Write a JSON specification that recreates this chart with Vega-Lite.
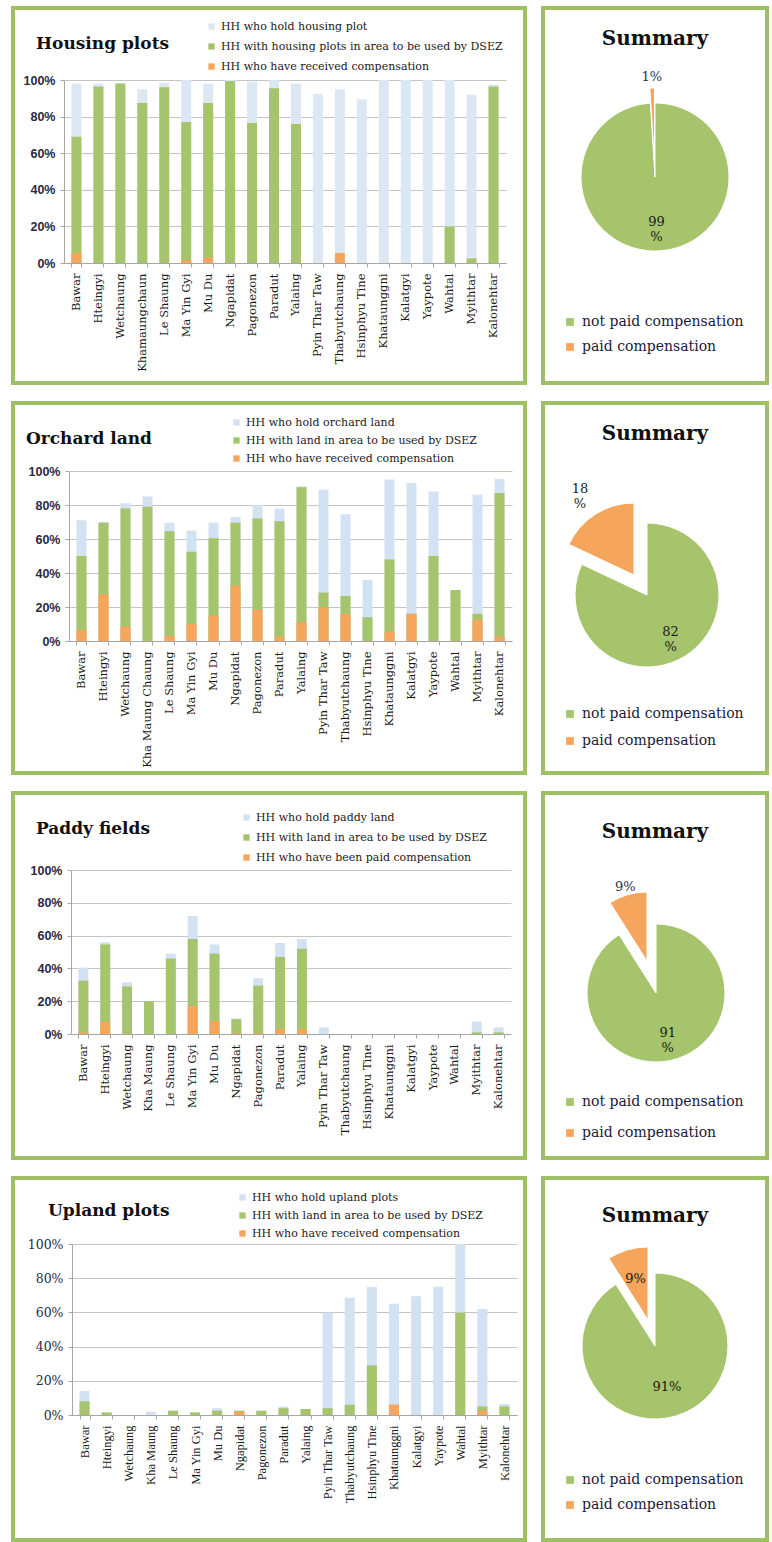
{
  "$schema": "https://vega.github.io/schema/vega-lite/v6.json",
  "background": "white",
  "padding": {"left": 5, "top": 6, "right": 0, "bottom": 0},
  "spacing": 16,
  "resolve": {"scale": {"color": "independent", "theta": "independent"}, "legend": {"color": "independent"}},
  "config": {"view": {"stroke": null}},
  "vconcat": [
    {
      "spacing": 14,
      "resolve": {"scale": {"color": "independent", "theta": "independent"}, "legend": {"color": "independent"}},
      "hconcat": [
        {
          "width": 512, "height": 375,
          "view": {"stroke": "#9fc062", "strokeWidth": 4},
          "title": {"text": "Housing plots", "anchor": "start", "frame": "group", "dx": 23, "offset": -53, "baseline": "middle", "font": "DejaVu Serif", "fontSize": 17, "fontWeight": "bold", "color": "#111111"},
          "data": {"values": [
            {"village": "Bawar", "hold": 98, "dsez": 69, "comp": 5.5},
            {"village": "Hteingyi", "hold": 98, "dsez": 96.5, "comp": 0},
            {"village": "Wetchaung", "hold": 98.5, "dsez": 98, "comp": 0},
            {"village": "Khamaungchaun", "hold": 95, "dsez": 87.5, "comp": 0},
            {"village": "Le Shaung", "hold": 98.5, "dsez": 96, "comp": 0},
            {"village": "Ma Yin Gyi", "hold": 100, "dsez": 77, "comp": 1.5},
            {"village": "Mu Du", "hold": 98, "dsez": 87.5, "comp": 3},
            {"village": "Ngapidat", "hold": 100, "dsez": 99.5, "comp": 0},
            {"village": "Pagonezon", "hold": 99, "dsez": 76.5, "comp": 0},
            {"village": "Paradut", "hold": 100, "dsez": 95.5, "comp": 0},
            {"village": "Yalaing", "hold": 98, "dsez": 76, "comp": 0},
            {"village": "Pyin Thar Taw", "hold": 92.5, "dsez": 0, "comp": 0},
            {"village": "Thabyutchaung", "hold": 95, "dsez": 0, "comp": 5.5},
            {"village": "Hsinphyu Tine", "hold": 89.5, "dsez": 0, "comp": 0},
            {"village": "Khataunggni", "hold": 100, "dsez": 0, "comp": 0},
            {"village": "Kalatgyi", "hold": 100, "dsez": 0, "comp": 0},
            {"village": "Yaypote", "hold": 100, "dsez": 0, "comp": 0},
            {"village": "Wahtal", "hold": 100, "dsez": 20, "comp": 0},
            {"village": "Myithtar", "hold": 92, "dsez": 2.5, "comp": 0},
            {"village": "Kalonehtar", "hold": 97.5, "dsez": 96.5, "comp": 0}
          ]},
          "transform": [{"fold": ["hold", "dsez", "comp"], "as": ["series", "value"]}],
          "mark": {"type": "bar"},
          "encoding": {
            "x": {"field": "village", "type": "nominal", "sort": null,
              "scale": {"range": [51, 493], "paddingInner": 0.545, "paddingOuter": 0.34},
              "axis": {"title": null, "orient": "bottom", "offset": -120, "labelAngle": -90, "tickBand": "extent", "tickSize": 4, "labelPadding": 6, "labelFont": "DejaVu Serif", "labelFontSize": 11.5, "labelColor": "#1a1a1a", "domainColor": "#a6a6a6", "tickColor": "#a6a6a6", "grid": false}},
            "y": {"field": "value", "type": "quantitative", "stack": null,
              "scale": {"domain": [0, 100], "range": [255, 72]},
              "axis": {"title": null, "offset": -51, "values": [0, 20, 40, 60, 80, 100], "labelExpr": "datum.value + '%'", "grid": true, "gridColor": "#c4c4c4", "gridWidth": 1.2, "tickSize": 4, "labelPadding": 5, "domainColor": "#a6a6a6", "tickColor": "#a6a6a6", "labelFont": "Liberation Sans", "labelFontWeight": "bold", "labelFontSize": 12.5, "labelColor": "#2a2a44"}},
            "color": {"field": "series", "type": "nominal",
              "scale": {"domain": ["hold", "dsez", "comp"], "range": ["#dbe8f3", "#a5c46b", "#f5a55c"]},
              "legend": {"orient": "none", "legendX": 193, "legendY": 13, "title": null, "symbolType": "square", "symbolSize": 40, "symbolStrokeWidth": 0, "labelFont": "DejaVu Serif", "labelFontSize": 11, "labelColor": "#1a1a1a", "labelLimit": 400, "rowPadding": 8, "labelOffset": 4,
                "labelExpr": "{'hold': 'HH who hold housing plot', 'dsez': 'HH with housing plots in area to be used by DSEZ', 'comp': 'HH who have received compensation'}[datum.label]"}}
          }
        },
        {
          "width": 224, "height": 375,
          "view": {"stroke": "#9fc062", "strokeWidth": 4},
          "title": {"text": "Summary", "anchor": "middle", "frame": "group", "offset": -51, "baseline": "middle", "font": "DejaVu Serif", "fontSize": 20, "fontWeight": "bold", "color": "#111111"},
          "data": {"values": [
            {"status": "not paid compensation", "pct": 99, "label": "99 %"},
            {"status": "paid compensation", "pct": 1, "label": "1%"}
          ]},
          "encoding": {
            "theta": {"field": "pct", "type": "quantitative", "stack": true},
            "order": {"field": "status", "type": "nominal", "sort": "ascending"}
          },
          "layer": [
            {"mark": {"type": "arc", "outerRadius": 74, "xOffset": 0, "yOffset": -18.5, "stroke": "white", "strokeWidth": 1},
             "encoding": {
               "color": {"field": "status", "type": "nominal", "scale": {"domain": ["not paid compensation", "paid compensation"], "range": ["#a5c46b", "#f5a55c"]},
                 "legend": {"orient": "none", "legendX": 20, "legendY": 307, "title": null, "symbolType": "square", "symbolSize": 60, "symbolStrokeWidth": 0, "labelFont": "DejaVu Serif", "labelFontSize": 14, "labelColor": "#1a1a3a", "labelLimit": 400, "rowPadding": 11, "labelOffset": 5}},
               "opacity": {"condition": {"test": "datum.status == 'paid compensation'", "value": 0}, "value": 1}}},
            {"mark": {"type": "arc", "outerRadius": 74, "xOffset": -0.5, "yOffset": -33.5, "stroke": "white", "strokeWidth": 1},
             "encoding": {
               "color": {"field": "status", "type": "nominal"},
               "opacity": {"condition": {"test": "datum.status == 'not paid compensation'", "value": 0}, "value": 1}}},
            {"mark": {"type": "text", "radius": 45, "xOffset": 0, "yOffset": -18.5, "lineBreak": " ", "font": "DejaVu Serif", "fontSize": 13, "color": "#1a1a1a"},
             "encoding": {"detail": {"field": "status"}, "text": {"condition": {"test": "datum.status == 'not paid compensation'", "field": "label"}, "value": ""}}},
            {"mark": {"type": "text", "radius": 100, "xOffset": 0, "yOffset": -18.5, "lineBreak": " ", "font": "DejaVu Serif", "fontSize": 13, "color": "#2a3350"},
             "encoding": {"detail": {"field": "status"}, "text": {"condition": {"test": "datum.status == 'paid compensation'", "field": "label"}, "value": ""}}}
          ]
        }
      ]
    },
    {
      "spacing": 14,
      "resolve": {"scale": {"color": "independent", "theta": "independent"}, "legend": {"color": "independent"}},
      "hconcat": [
        {
          "width": 512, "height": 370,
          "view": {"stroke": "#9fc062", "strokeWidth": 4},
          "title": {"text": "Orchard land", "anchor": "start", "frame": "group", "dx": 13, "offset": -53, "baseline": "middle", "font": "DejaVu Serif", "fontSize": 17, "fontWeight": "bold", "color": "#111111"},
          "data": {"values": [
            {"village": "Bawar", "hold": 71, "dsez": 50, "comp": 6.5},
            {"village": "Hteingyi", "hold": 70, "dsez": 69.5, "comp": 27.5},
            {"village": "Wetchaung", "hold": 81, "dsez": 78, "comp": 8.5},
            {"village": "Kha Maung Chaung", "hold": 85, "dsez": 79, "comp": 0},
            {"village": "Le Shaung", "hold": 69.5, "dsez": 64.5, "comp": 3},
            {"village": "Ma Yin Gyi", "hold": 65, "dsez": 52.5, "comp": 10},
            {"village": "Mu Du", "hold": 69.5, "dsez": 60.5, "comp": 15},
            {"village": "Ngapidat", "hold": 73, "dsez": 69.5, "comp": 32.5},
            {"village": "Pagonezon", "hold": 80, "dsez": 72, "comp": 18.5},
            {"village": "Paradut", "hold": 78, "dsez": 70.5, "comp": 2.5},
            {"village": "Yalaing", "hold": 91, "dsez": 90.5, "comp": 11},
            {"village": "Pyin Thar Taw", "hold": 89, "dsez": 28.5, "comp": 20},
            {"village": "Thabyutchaung", "hold": 74.5, "dsez": 26.5, "comp": 16},
            {"village": "Hsinphyu Tine", "hold": 36, "dsez": 14, "comp": 0},
            {"village": "Khataunggni", "hold": 95, "dsez": 48, "comp": 5.5},
            {"village": "Kalatgyi", "hold": 93, "dsez": 16, "comp": 16},
            {"village": "Yaypote", "hold": 88, "dsez": 50, "comp": 0},
            {"village": "Wahtal", "hold": 30, "dsez": 30, "comp": 0},
            {"village": "Myithtar", "hold": 86, "dsez": 16, "comp": 12.5},
            {"village": "Kalonehtar", "hold": 95.5, "dsez": 87, "comp": 2.5}
          ]},
          "transform": [{"fold": ["hold", "dsez", "comp"], "as": ["series", "value"]}],
          "mark": {"type": "bar"},
          "encoding": {
            "x": {"field": "village", "type": "nominal", "sort": null,
              "scale": {"range": [56, 499], "paddingInner": 0.545, "paddingOuter": 0.34},
              "axis": {"title": null, "orient": "bottom", "offset": -132, "labelAngle": -90, "tickBand": "extent", "tickSize": 4, "labelPadding": 6, "labelFont": "DejaVu Serif", "labelFontSize": 11.5, "labelColor": "#1a1a1a", "domainColor": "#a6a6a6", "tickColor": "#a6a6a6", "grid": false}},
            "y": {"field": "value", "type": "quantitative", "stack": null,
              "scale": {"domain": [0, 100], "range": [238, 68]},
              "axis": {"title": null, "offset": -56, "values": [0, 20, 40, 60, 80, 100], "labelExpr": "datum.value + '%'", "grid": true, "gridColor": "#c4c4c4", "gridWidth": 1.2, "tickSize": 4, "labelPadding": 5, "domainColor": "#a6a6a6", "tickColor": "#a6a6a6", "labelFont": "Liberation Sans", "labelFontWeight": "bold", "labelFontSize": 12.5, "labelColor": "#2a2a44"}},
            "color": {"field": "series", "type": "nominal",
              "scale": {"domain": ["hold", "dsez", "comp"], "range": ["#d3e2f3", "#a5c46b", "#f5a55c"]},
              "legend": {"orient": "none", "legendX": 218, "legendY": 14, "title": null, "symbolType": "square", "symbolSize": 40, "symbolStrokeWidth": 0, "labelFont": "DejaVu Serif", "labelFontSize": 11, "labelColor": "#1a1a1a", "labelLimit": 400, "rowPadding": 6, "labelOffset": 4,
                "labelExpr": "{'hold': 'HH who hold orchard land', 'dsez': 'HH with land in area to be used by DSEZ', 'comp': 'HH who have received compensation'}[datum.label]"}}
          }
        },
        {
          "width": 224, "height": 370,
          "view": {"stroke": "#9fc062", "strokeWidth": 4},
          "title": {"text": "Summary", "anchor": "middle", "frame": "group", "offset": -51, "baseline": "middle", "font": "DejaVu Serif", "fontSize": 20, "fontWeight": "bold", "color": "#111111"},
          "data": {"values": [
            {"status": "not paid compensation", "pct": 82, "label": "82 %"},
            {"status": "paid compensation", "pct": 18, "label": "18 %"}
          ]},
          "encoding": {
            "theta": {"field": "pct", "type": "quantitative", "stack": true},
            "order": {"field": "status", "type": "nominal", "sort": "ascending"}
          },
          "layer": [
            {"mark": {"type": "arc", "outerRadius": 72, "xOffset": -8, "yOffset": 7, "stroke": "white", "strokeWidth": 1},
             "encoding": {
               "color": {"field": "status", "type": "nominal", "scale": {"domain": ["not paid compensation", "paid compensation"], "range": ["#a5c46b", "#f5a55c"]},
                 "legend": {"orient": "none", "legendX": 20, "legendY": 304, "title": null, "symbolType": "square", "symbolSize": 60, "symbolStrokeWidth": 0, "labelFont": "DejaVu Serif", "labelFontSize": 14, "labelColor": "#1a1a3a", "labelLimit": 400, "rowPadding": 13, "labelOffset": 5}},
               "opacity": {"condition": {"test": "datum.status == 'paid compensation'", "value": 0}, "value": 1}}},
            {"mark": {"type": "arc", "outerRadius": 72, "xOffset": -21, "yOffset": -13, "stroke": "white", "strokeWidth": 1},
             "encoding": {
               "color": {"field": "status", "type": "nominal"},
               "opacity": {"condition": {"test": "datum.status == 'not paid compensation'", "value": 0}, "value": 1}}},
            {"mark": {"type": "text", "radius": 44, "xOffset": -8, "yOffset": 7, "lineBreak": " ", "font": "DejaVu Serif", "fontSize": 13, "color": "#1a1a1a"},
             "encoding": {"detail": {"field": "status"}, "text": {"condition": {"test": "datum.status == 'not paid compensation'", "field": "label"}, "value": ""}}},
            {"mark": {"type": "text", "radius": 125, "xOffset": -8, "yOffset": 7, "lineBreak": " ", "font": "DejaVu Serif", "fontSize": 13, "color": "#1a1a1a"},
             "encoding": {"detail": {"field": "status"}, "text": {"condition": {"test": "datum.status == 'paid compensation'", "field": "label"}, "value": ""}}}
          ]
        }
      ]
    },
    {
      "spacing": 14,
      "resolve": {"scale": {"color": "independent", "theta": "independent"}, "legend": {"color": "independent"}},
      "hconcat": [
        {
          "width": 512, "height": 365,
          "view": {"stroke": "#9fc062", "strokeWidth": 4},
          "title": {"text": "Paddy fields", "anchor": "start", "frame": "group", "dx": 23, "offset": -53, "baseline": "middle", "font": "DejaVu Serif", "fontSize": 17, "fontWeight": "bold", "color": "#111111"},
          "data": {"values": [
            {"village": "Bawar", "hold": 40.5, "dsez": 32.5, "comp": 1},
            {"village": "Hteingyi", "hold": 56, "dsez": 54.5, "comp": 7.5},
            {"village": "Wetchaung", "hold": 31.5, "dsez": 29, "comp": 0},
            {"village": "Kha Maung", "hold": 20, "dsez": 20, "comp": 0},
            {"village": "Le Shaung", "hold": 49, "dsez": 46, "comp": 0},
            {"village": "Ma Yin Gyi", "hold": 72, "dsez": 58, "comp": 17},
            {"village": "Mu Du", "hold": 54.5, "dsez": 49, "comp": 8},
            {"village": "Ngapidat", "hold": 9.5, "dsez": 9, "comp": 0.5},
            {"village": "Pagonezon", "hold": 34, "dsez": 29.5, "comp": 0.5},
            {"village": "Paradut", "hold": 55.5, "dsez": 47, "comp": 3},
            {"village": "Yalaing", "hold": 58, "dsez": 52, "comp": 3},
            {"village": "Pyin Thar Taw", "hold": 4, "dsez": 0, "comp": 0},
            {"village": "Thabyutchaung", "hold": 0, "dsez": 0, "comp": 0},
            {"village": "Hsinphyu Tine", "hold": 0, "dsez": 0, "comp": 0},
            {"village": "Khataunggni", "hold": 0, "dsez": 0, "comp": 0},
            {"village": "Kalatgyi", "hold": 0, "dsez": 0, "comp": 0},
            {"village": "Yaypote", "hold": 0, "dsez": 0, "comp": 0},
            {"village": "Wahtal", "hold": 0, "dsez": 0, "comp": 0},
            {"village": "Myithtar", "hold": 7.5, "dsez": 1, "comp": 0},
            {"village": "Kalonehtar", "hold": 4, "dsez": 1, "comp": 0}
          ]},
          "transform": [{"fold": ["hold", "dsez", "comp"], "as": ["series", "value"]}],
          "mark": {"type": "bar"},
          "encoding": {
            "x": {"field": "village", "type": "nominal", "sort": null,
              "scale": {"range": [58, 498], "paddingInner": 0.545, "paddingOuter": 0.34},
              "axis": {"title": null, "orient": "bottom", "offset": -124, "labelAngle": -90, "tickBand": "extent", "tickSize": 4, "labelPadding": 6, "labelFont": "DejaVu Serif", "labelFontSize": 11.5, "labelColor": "#1a1a1a", "domainColor": "#a6a6a6", "tickColor": "#a6a6a6", "grid": false}},
            "y": {"field": "value", "type": "quantitative", "stack": null,
              "scale": {"domain": [0, 100], "range": [241, 77]},
              "axis": {"title": null, "offset": -58, "values": [0, 20, 40, 60, 80, 100], "labelExpr": "datum.value + '%'", "grid": true, "gridColor": "#c4c4c4", "gridWidth": 1.2, "tickSize": 4, "labelPadding": 5, "domainColor": "#a6a6a6", "tickColor": "#a6a6a6", "labelFont": "Liberation Sans", "labelFontWeight": "bold", "labelFontSize": 12.5, "labelColor": "#2a2a44"}},
            "color": {"field": "series", "type": "nominal",
              "scale": {"domain": ["hold", "dsez", "comp"], "range": ["#d3e2f3", "#a5c46b", "#f5a55c"]},
              "legend": {"orient": "none", "legendX": 228, "legendY": 19, "title": null, "symbolType": "square", "symbolSize": 40, "symbolStrokeWidth": 0, "labelFont": "DejaVu Serif", "labelFontSize": 11, "labelColor": "#1a1a1a", "labelLimit": 400, "rowPadding": 8, "labelOffset": 4,
                "labelExpr": "{'hold': 'HH who hold paddy land', 'dsez': 'HH with land in area to be used by DSEZ', 'comp': 'HH who have been paid compensation'}[datum.label]"}}
          }
        },
        {
          "width": 224, "height": 365,
          "view": {"stroke": "#9fc062", "strokeWidth": 4},
          "title": {"text": "Summary", "anchor": "middle", "frame": "group", "offset": -59, "baseline": "middle", "font": "DejaVu Serif", "fontSize": 20, "fontWeight": "bold", "color": "#111111"},
          "data": {"values": [
            {"status": "not paid compensation", "pct": 91, "label": "91 %"},
            {"status": "paid compensation", "pct": 9, "label": "9%"}
          ]},
          "encoding": {
            "theta": {"field": "pct", "type": "quantitative", "stack": true},
            "order": {"field": "status", "type": "nominal", "sort": "ascending"}
          },
          "layer": [
            {"mark": {"type": "arc", "outerRadius": 69, "xOffset": 1, "yOffset": 17.5, "stroke": "white", "strokeWidth": 1},
             "encoding": {
               "color": {"field": "status", "type": "nominal", "scale": {"domain": ["not paid compensation", "paid compensation"], "range": ["#a5c46b", "#f5a55c"]},
                 "legend": {"orient": "none", "legendX": 20, "legendY": 302, "title": null, "symbolType": "square", "symbolSize": 60, "symbolStrokeWidth": 0, "labelFont": "DejaVu Serif", "labelFontSize": 14, "labelColor": "#1a1a3a", "labelLimit": 400, "rowPadding": 17, "labelOffset": 5}},
               "opacity": {"condition": {"test": "datum.status == 'paid compensation'", "value": 0}, "value": 1}}},
            {"mark": {"type": "arc", "outerRadius": 69, "xOffset": -8, "yOffset": -14.5, "stroke": "white", "strokeWidth": 1},
             "encoding": {
               "color": {"field": "status", "type": "nominal"},
               "opacity": {"condition": {"test": "datum.status == 'not paid compensation'", "value": 0}, "value": 1}}},
            {"mark": {"type": "text", "radius": 42, "xOffset": 1, "yOffset": 17.5, "lineBreak": " ", "font": "DejaVu Serif", "fontSize": 13, "color": "#1a1a1a"},
             "encoding": {"detail": {"field": "status"}, "text": {"condition": {"test": "datum.status == 'not paid compensation'", "field": "label"}, "value": ""}}},
            {"mark": {"type": "text", "radius": 110, "xOffset": 1, "yOffset": 17.5, "lineBreak": " ", "font": "DejaVu Serif", "fontSize": 13, "color": "#2a3350"},
             "encoding": {"detail": {"field": "status"}, "text": {"condition": {"test": "datum.status == 'paid compensation'", "field": "label"}, "value": ""}}}
          ]
        }
      ]
    },
    {
      "spacing": 14,
      "resolve": {"scale": {"color": "independent", "theta": "independent"}, "legend": {"color": "independent"}},
      "hconcat": [
        {
          "width": 512, "height": 362,
          "view": {"stroke": "#9fc062", "strokeWidth": 4},
          "title": {"text": "Upland plots", "anchor": "start", "frame": "group", "dx": 35, "offset": -50, "baseline": "middle", "font": "DejaVu Serif", "fontSize": 17, "fontWeight": "bold", "color": "#111111"},
          "data": {"values": [
            {"village": "Bawar", "hold": 14, "dsez": 8, "comp": 0},
            {"village": "Hteingyi", "hold": 1.5, "dsez": 1.5, "comp": 0},
            {"village": "Wetchaung", "hold": 0, "dsez": 0, "comp": 0},
            {"village": "Kha Maung", "hold": 2, "dsez": 0, "comp": 0},
            {"village": "Le Shaung", "hold": 2.5, "dsez": 2.5, "comp": 0},
            {"village": "Ma Yin Gyi", "hold": 1.5, "dsez": 1.5, "comp": 0},
            {"village": "Mu Du", "hold": 4, "dsez": 2.5, "comp": 0},
            {"village": "Ngapidat", "hold": 2.5, "dsez": 2.5, "comp": 2},
            {"village": "Pagonezon", "hold": 2.5, "dsez": 2.5, "comp": 0},
            {"village": "Paradut", "hold": 5, "dsez": 4, "comp": 0},
            {"village": "Yalaing", "hold": 3.5, "dsez": 3.5, "comp": 0},
            {"village": "Pyin Thar Taw", "hold": 60, "dsez": 4, "comp": 0},
            {"village": "Thabyutchaung", "hold": 68.5, "dsez": 6, "comp": 0},
            {"village": "Hsinphyu Tine", "hold": 75, "dsez": 29, "comp": 0},
            {"village": "Khataunggni", "hold": 65, "dsez": 6, "comp": 6},
            {"village": "Kalatgyi", "hold": 69.5, "dsez": 0, "comp": 0},
            {"village": "Yaypote", "hold": 75, "dsez": 0, "comp": 0},
            {"village": "Wahtal", "hold": 100, "dsez": 60, "comp": 0},
            {"village": "Myithtar", "hold": 62, "dsez": 5, "comp": 2.5},
            {"village": "Kalonehtar", "hold": 6.5, "dsez": 5, "comp": 0}
          ]},
          "transform": [{"fold": ["hold", "dsez", "comp"], "as": ["series", "value"]}],
          "mark": {"type": "bar"},
          "encoding": {
            "x": {"field": "village", "type": "nominal", "sort": null,
              "scale": {"range": [59, 504], "paddingInner": 0.545, "paddingOuter": 0.34},
              "axis": {"title": null, "orient": "bottom", "offset": -125, "labelAngle": -90, "tickBand": "extent", "tickSize": 4, "labelPadding": 6, "labelFont": "Liberation Serif", "labelFontSize": 12.5, "labelColor": "#1a1a1a", "domainColor": "#a6a6a6", "tickColor": "#a6a6a6", "grid": false}},
            "y": {"field": "value", "type": "quantitative", "stack": null,
              "scale": {"domain": [0, 100], "range": [237, 66]},
              "axis": {"title": null, "offset": -59, "values": [0, 20, 40, 60, 80, 100], "labelExpr": "datum.value + '%'", "grid": true, "gridColor": "#c4c4c4", "gridWidth": 1.2, "tickSize": 4, "labelPadding": 5, "domainColor": "#a6a6a6", "tickColor": "#a6a6a6", "labelFont": "DejaVu Serif", "labelFontSize": 12.5, "labelColor": "#2a2a44"}},
            "color": {"field": "series", "type": "nominal",
              "scale": {"domain": ["hold", "dsez", "comp"], "range": ["#d3e2f3", "#a5c46b", "#f5a55c"]},
              "legend": {"orient": "none", "legendX": 224, "legendY": 14, "title": null, "symbolType": "square", "symbolSize": 40, "symbolStrokeWidth": 0, "labelFont": "DejaVu Serif", "labelFontSize": 11, "labelColor": "#1a1a1a", "labelLimit": 400, "rowPadding": 6, "labelOffset": 4,
                "labelExpr": "{'hold': 'HH who hold upland plots', 'dsez': 'HH with land in area to be used by DSEZ', 'comp': 'HH who have received compensation'}[datum.label]"}}
          }
        },
        {
          "width": 224, "height": 362,
          "view": {"stroke": "#9fc062", "strokeWidth": 4},
          "title": {"text": "Summary", "anchor": "middle", "frame": "group", "offset": -58, "baseline": "middle", "font": "DejaVu Serif", "fontSize": 20, "fontWeight": "bold", "color": "#111111"},
          "data": {"values": [
            {"status": "not paid compensation", "pct": 91, "label": "91%"},
            {"status": "paid compensation", "pct": 9, "label": "9%"}
          ]},
          "encoding": {
            "theta": {"field": "pct", "type": "quantitative", "stack": true},
            "order": {"field": "status", "type": "nominal", "sort": "ascending"}
          },
          "layer": [
            {"mark": {"type": "arc", "outerRadius": 73, "xOffset": 0, "yOffset": -13, "stroke": "white", "strokeWidth": 1},
             "encoding": {
               "color": {"field": "status", "type": "nominal", "scale": {"domain": ["not paid compensation", "paid compensation"], "range": ["#a5c46b", "#f5a55c"]},
                 "legend": {"orient": "none", "legendX": 20, "legendY": 295, "title": null, "symbolType": "square", "symbolSize": 60, "symbolStrokeWidth": 0, "labelFont": "DejaVu Serif", "labelFontSize": 14, "labelColor": "#1a1a3a", "labelLimit": 400, "rowPadding": 11, "labelOffset": 5}},
               "opacity": {"condition": {"test": "datum.status == 'paid compensation'", "value": 0}, "value": 1}}},
            {"mark": {"type": "arc", "outerRadius": 73, "xOffset": -7, "yOffset": -39, "stroke": "white", "strokeWidth": 1},
             "encoding": {
               "color": {"field": "status", "type": "nominal"},
               "opacity": {"condition": {"test": "datum.status == 'not paid compensation'", "value": 0}, "value": 1}}},
            {"mark": {"type": "text", "radius": 43, "xOffset": 0, "yOffset": -13, "font": "DejaVu Serif", "fontSize": 13, "color": "#1a1a1a"},
             "encoding": {"detail": {"field": "status"}, "text": {"condition": {"test": "datum.status == 'not paid compensation'", "field": "label"}, "value": ""}}},
            {"mark": {"type": "text", "radius": 70, "xOffset": 0, "yOffset": -13, "font": "DejaVu Serif", "fontSize": 13, "color": "#1a1a1a"},
             "encoding": {"detail": {"field": "status"}, "text": {"condition": {"test": "datum.status == 'paid compensation'", "field": "label"}, "value": ""}}}
          ]
        }
      ]
    }
  ]
}
